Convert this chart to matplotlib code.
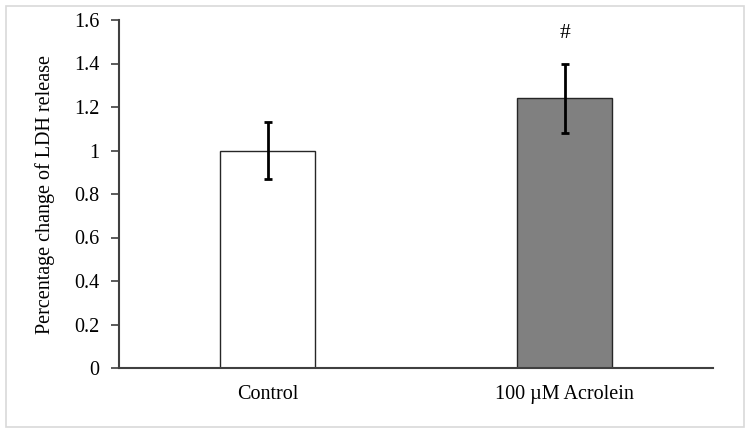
import matplotlib
matplotlib.use("Agg")
import matplotlib.pyplot as plt
from matplotlib.patches import Rectangle

categories = ["Control", "100 \u00b5M Acrolein"]
values = [1.0, 1.24]
errors = [0.13, 0.16]
colors = ["#ffffff", "#808080"]
marks = ["", "#"]
yticks = [0, 0.2, 0.4, 0.6, 0.8, 1, 1.2, 1.4, 1.6]
ytick_labels = ["0", "0.2", "0.4", "0.6", "0.8", "1", "1.2", "1.4", "1.6"]

plt.rcParams['font.family'] = ['Liberation Serif', 'DejaVu Serif']
FS = 14.5

fig = plt.figure(figsize=(7.5, 4.34), dpi=100)
fig.patches.append(Rectangle((6/750, 7/434), 738/750, 421/434, transform=fig.transFigure,
                             fill=False, edgecolor="#d9d9d9", linewidth=1.2))
ax = fig.add_axes([119/750, 1 - 368/434, 594/750, 348/434])

x = range(len(categories))
ax.bar(x, values, width=0.32, color=colors, edgecolor="#262626", linewidth=1.0, zorder=2)
ax.errorbar(x, values, yerr=errors, fmt="none", ecolor="black", elinewidth=2,
            capsize=2.8, capthick=2, zorder=3)
for xi, v, e, m in zip(x, values, errors, marks):
    if m:
        ax.text(xi, 1.54, m, ha="center", va="center", fontsize=FS + 1)

ax.set_xlim(-0.5, 1.5)
ax.set_ylim(0, 1.6)
ax.set_yticks(yticks)
ax.set_yticklabels(ytick_labels, fontsize=FS)
ax.set_xticks(list(x))
ax.set_xticklabels(categories, fontsize=FS)
ax.tick_params(axis="x", length=0, pad=12)
ax.tick_params(axis="y", length=6, width=1.2, color="#404040", direction="out", pad=8)
ax.set_ylabel("Percentage change of LDH release", fontsize=FS, labelpad=14)
for s in ["top", "right"]:
    ax.spines[s].set_visible(False)
for s in ["left", "bottom"]:
    ax.spines[s].set_color("#404040")
    ax.spines[s].set_linewidth(1.5)

fig.savefig("out.png", dpi=100)
